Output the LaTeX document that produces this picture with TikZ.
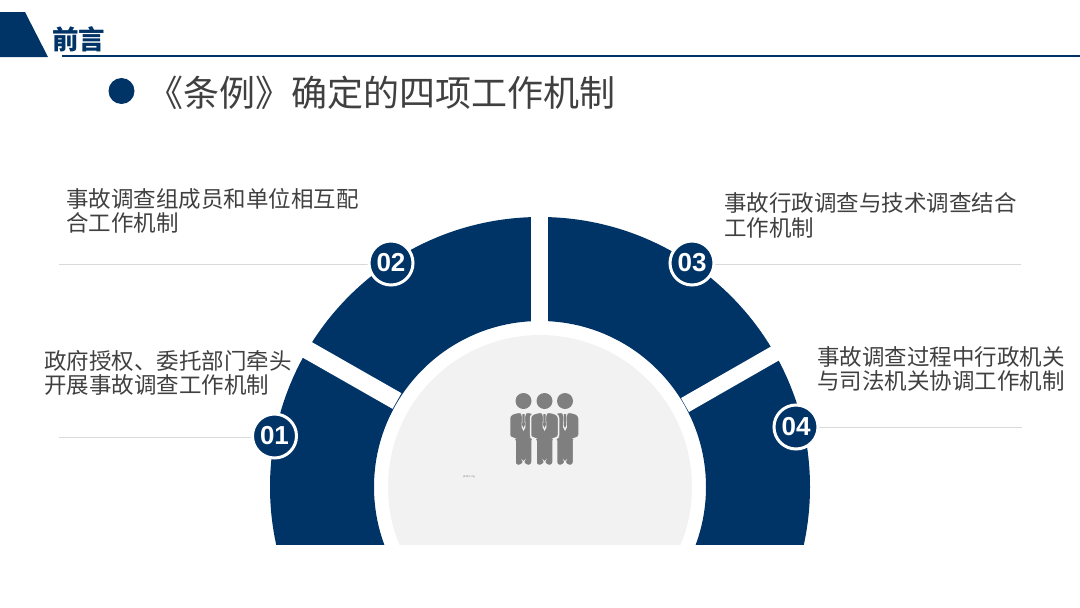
\documentclass[tikz,border=0pt]{standalone}
\usepackage{fontspec}
\setmainfont{Noto Sans CJK SC}
\setsansfont{Liberation Sans}
\definecolor{navy}{HTML}{003366}
\definecolor{txt}{HTML}{404040}
\definecolor{rule}{HTML}{D9D9D9}
\definecolor{pale}{HTML}{F2F2F2}
\definecolor{fig}{HTML}{7F7F7F}
\tikzset{
 label/.style={text=txt,font=\fontsize{22.5}{24.5}\selectfont,anchor=north west,inner sep=0pt,align=left,text width=#1},
 badge/.style={circle,fill=navy,draw=white,line width=3pt,minimum size=44pt,inner sep=0pt,text=white,font=\sffamily\bfseries\fontsize{26}{26}\selectfont},
 leader/.style={draw=rule,line width=1pt},
 gap/.style={draw=white,line width=#1},
 person/.pic={
  \fill[fig] (0,0) circle (8);
  \filldraw[fill=fig,draw=pale,line width=1.5pt,rounded corners=3pt] (-14,14) -- (-5.5,11) -- (0,12) -- (5.5,11) -- (14,14) -- (14,37) -- (8.5,37) -- (8.5,64.5) -- (1.5,64.5) -- (0,61) -- (-1.5,64.5) -- (-8.5,64.5) -- (-8.5,37) -- (-14,37) -- cycle;
  \fill[pale] (-3.5,10) -- (-1.5,16) -- (-2,26) -- (0,30) -- (2,26) -- (1.5,16) -- (3.5,10) -- cycle;
  \fill[fig] (-1,13) -- (1,13) -- (1.3,24) -- (0,27) -- (-1.3,24) -- cycle;
 }
}
\begin{document}
\begin{tikzpicture}[x=1pt,y=-1pt]
\useasboundingbox (0,0) rectangle (1080,608);
% header
\fill[navy] (0,12) -- (25,12) -- (48,57) -- (0,57) -- cycle;
\coordinate (ruleL) at (62,55.5); \coordinate (ruleR) at (1080,55.5);
\draw[navy,line width=2pt] (ruleL) -- (ruleR);
\node[anchor=west,inner sep=0pt,text=navy,font=\bfseries\fontsize{26.5}{27}\selectfont] (head) at (52,39) {前言};
\fill[navy] (121.5,91) circle (13);
\node[anchor=east,inner sep=0pt,text=txt,font=\fontsize{36}{36}\selectfont] (title) at (615.5,93) {《条例》确定的四项工作机制};
% ring
\begin{scope}
\clip (0,0) rectangle (1080,544);
\fill[navy,even odd rule] (540,487) circle (270) (540,487) circle (166);
\fill[pale] (540,487) circle (152);
\draw[gap=17pt] (539.5,328) -- (539.5,210);
\draw[gap=18pt] (397,401) -- (307.5,350) -- (290,340);
\draw[gap=16pt] (685,405) -- (774,354) -- (792,344);
\end{scope}
% figures
\path (523.5,401) pic {person} (565,401) pic {person} (544.5,401) pic {person};
\node[inner sep=0pt,text=fig,font=\sffamily\fontsize{2.6}{3}\selectfont] (tiny) at (469,477) {(2427) mg};
% badges + leaders
\coordinate (l1) at (59,437); \coordinate (l2) at (59,264); \coordinate (l3) at (1021,264); \coordinate (l4) at (1022,427);
\draw[leader] (l1) -- (274,437); \draw[leader] (l2) -- (391,264); \draw[leader] (l3) -- (692,264); \draw[leader] (l4) -- (796,427);
\node[badge] (b1) at (274.5,436) {01};
\node[badge] (b2) at (391,263) {02};
\node[badge] (b3) at (692,263) {03};
\node[badge] (b4) at (796,427) {04};
% labels
\node[label=300pt] (t2) at (66,188) {事故调查组成员和单位相互配\\合工作机制};
\node[label=300pt] (t1) at (44,350) {政府授权、委托部门牵头\\开展事故调查工作机制};
\node[label=300pt] (t3) at (724,192.5) {事故行政调查与技术调查结合\\工作机制};
\node[label=260pt] (t4) at (817,346) {事故调查过程中行政机关\\与司法机关协调工作机制};
\end{tikzpicture}
\end{document}
